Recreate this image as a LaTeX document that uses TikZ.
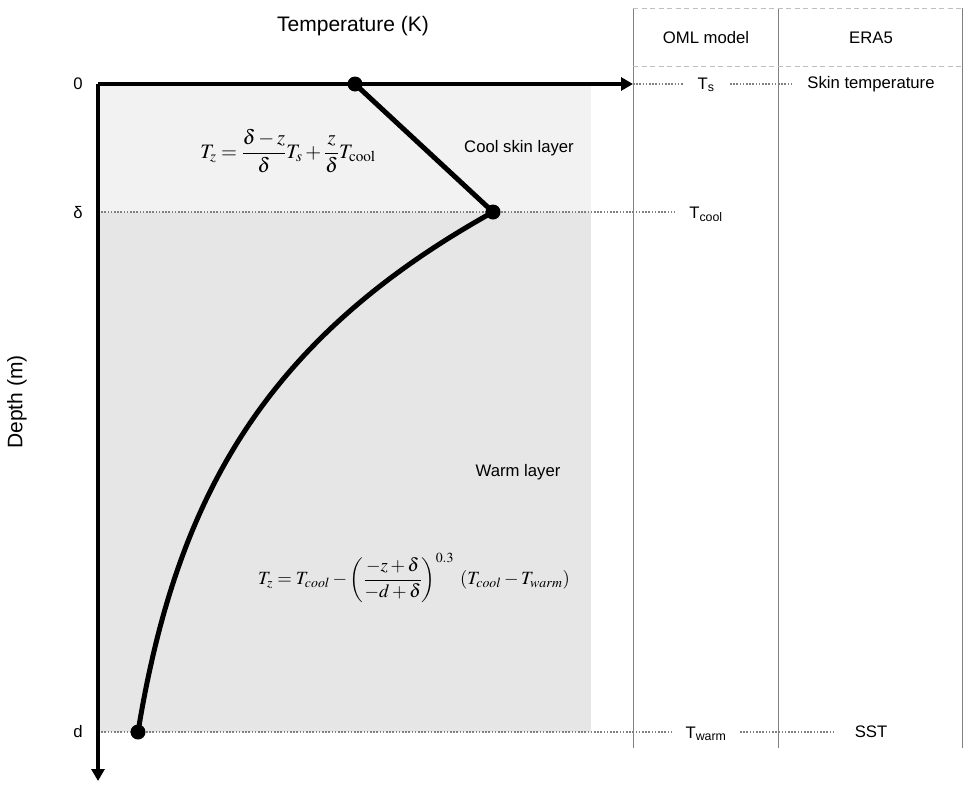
\documentclass[tikz,border=0pt]{standalone}
\usepackage{mathptmx}
\usepackage[no-math]{fontspec}
\setmainfont{Liberation Sans}
\usetikzlibrary{arrows.meta}
\definecolor{coolfill}{HTML}{F2F2F2}
\definecolor{warmfill}{HTML}{E6E6E6}
\definecolor{guide}{HTML}{808080}
\definecolor{dashc}{HTML}{BFBFBF}
\tikzset{
  lbl/.style={font=\fontsize{16.7}{18}\selectfont, inner sep=0pt},
  ttl/.style={font=\fontsize{21}{23}\selectfont, inner sep=0pt},
  eqn/.style={inner sep=0pt},
  dotline/.style={guide, line width=1.5pt, dash pattern=on 1.6pt off 1.6pt},
  dashline/.style={dashc, line width=0.8pt, dash pattern=on 5pt off 3.5pt},
  vline/.style={guide, line width=1pt},
  axis/.style={line width=3.2pt, -{Triangle[length=12pt,width=13pt]}},
  prof/.style={line width=5pt, line cap=round, line join=round},
  pdot/.style={circle, fill=black, minimum size=15pt, inner sep=0pt},
}
\begin{document}
\begin{tikzpicture}[x=1pt,y=-1pt]
\useasboundingbox (0,0) rectangle (971,793);
% background layers
\fill[coolfill] (98,84) rectangle (591,212);
\fill[warmfill] (98,212) rectangle (591,732);
% table lines
\coordinate (c1t) at (633,8); \coordinate (c1b) at (633,748);
\coordinate (c2t) at (778,8); \coordinate (c2b) at (778,748);
\coordinate (c3t) at (962,8); \coordinate (c3b) at (962,748);
\draw[vline] (c1t) -- (c1b);
\draw[vline] (c2t) -- (c2b);
\draw[vline] (c3t) -- (c3b);
\draw[dashline] (c1t) -- (c3t);
\coordinate (h1) at (633,66); \coordinate (h2) at (962,66);
\draw[dashline] (h1) -- (h2);
% headers
\node[lbl] (oml) at (706,38) {OML model};
\node[lbl] (era) at (871,38) {ERA5};
% right labels
\node[lbl] (ts) at (706,85) {T\textsubscript{s}};
\node[lbl] (skin) at (871,84) {Skin temperature};
\node[lbl] (tcool) at (706,214) {T\textsubscript{cool}};
\node[lbl] (twarm) at (706,734) {T\textsubscript{warm}};
\node[lbl] (sst) at (871,732) {SST};
% guide dotted lines
\coordinate (O) at (98,84);
\coordinate (xend) at (633,84);
\coordinate (yend) at (98,781);
\coordinate (dl) at (98,212);
\coordinate (dr) at (675,212);
\coordinate (wl) at (98,732);
\coordinate (wr) at (672,732);
\coordinate (sr) at (684,84);
\draw[dotline] (dl) -- (dr);
\draw[dotline] (wl) -- (wr);
\draw[dotline] (xend) -- (sr);
\coordinate (s1) at (730,84); \coordinate (s2) at (792,84);
\draw[dotline] (s1) -- (s2);
\coordinate (w1) at (740,732); \coordinate (w2) at (834,732);
\draw[dotline] (w1) -- (w2);
% axes
\draw[axis] (O) -- (xend);
\draw[axis] (O) -- (yend);
\node[ttl] (xlab) at (353,26) {Temperature (K)};
\node[ttl, rotate=90] (ylab) at (17,402) {Depth (m)};
\node[lbl] (z0) at (78,84) {0};
\node[lbl] (zd) at (78,213) {δ};
\node[lbl] (zw) at (78,732) {d};
% layer labels
\node[lbl] (cool) at (519,148) {Cool skin layer};
\node[lbl] (warm) at (518,472) {Warm layer};
% equations
\node[eqn] (eq1) at (288,151) {\fontsize{20.5}{24}\selectfont $\displaystyle T_z=\frac{\delta-z}{\delta}T_s+\frac{z}{\delta}T_{\mathrm{cool}}$};
\node[eqn] (eq2) at (414,578) {\fontsize{18.7}{22}\selectfont $\displaystyle T_z=T_{cool}-\left(\frac{-z+\delta}{-d+\delta}\right)^{0.3}\;\left(T_{cool}-T_{warm}\right)$};
% profile
\node[pdot] (ps) at (355,84) {};
\node[pdot] (pc) at (493,212) {};
\node[pdot] (pw) at (138,732) {};
\draw[prof] (ps.center) -- (pc.center);
\draw[prof] plot[domain=0:1, samples=120, variable=\s] ({493-355*(1-exp(-2.4*\s))/0.909282}, {212+520*\s});
\end{tikzpicture}
\end{document}
